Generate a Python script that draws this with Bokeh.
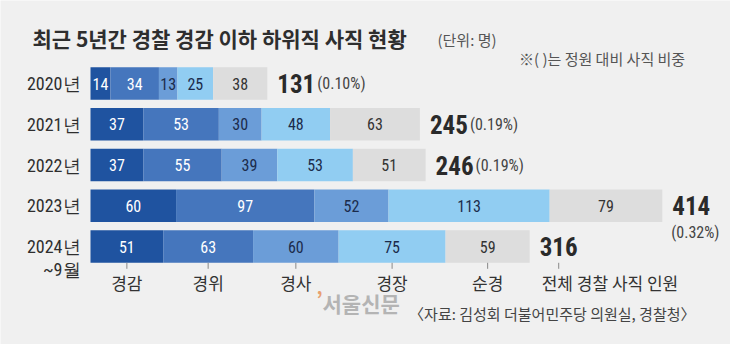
from bokeh.plotting import figure
from bokeh.models import ColumnDataSource, Range1d, Label
from bokeh.core.properties import value
from bokeh.embed import file_html
from bokeh.resources import INLINE

# ---------------- data ----------------
years = ["2020년", "2021년", "2022년", "2023년", "2024년"]
year_note = "~9월"
ranks = ["경감", "경위", "경사", "경장", "순경"]
gyeonggam = [14, 37, 37, 60, 51]
gyeongwi = [34, 53, 55, 97, 63]
gyeongsa = [13, 30, 39, 52, 60]
gyeongjang = [25, 48, 53, 113, 75]
sungyeong = [38, 63, 51, 79, 59]
totals = [131, 245, 246, 414, 316]
ratios = ["(0.10%)", "(0.19%)", "(0.19%)", "(0.32%)", ""]
total_caption = "전체 경찰 사직 인원"
title = "최근 5년간 경찰 경감 이하 하위직 사직 현황"
unit = "(단위: 명)"
note = "※(  )는 정원 대비 사직 비중"
source_txt = "〈자료: 김성회 더불어민주당 의원실, 경찰청〉"
brand = "서울신문"

series = [gyeonggam, gyeongwi, gyeongsa, gyeongjang, sungyeong]
colors = ["#1f53a0", "#4576bd", "#6b9dd8", "#91cdf2", "#dddddd"]
label_colors = ["#ffffff", "#ffffff", "#1b2b4b", "#1b2b4b", "#333333"]

W, H = 730, 344
BG = "#f0f0f0"
X0, SX = 90.0, 1.426      # pixel of x=0, px per unit
Y0, SY = 83.0, 40.75      # pixel of row 0, px per row

def px2x(px):
    return (px - X0) / SX

def px2y(py):
    return (py - Y0) / SY

NARROW_CSS = "'Roboto Condensed', 'DejaVu Sans Condensed', 'Liberation Sans Narrow', Roboto, sans-serif"
NARROW = value(NARROW_CSS)
KR_CSS = "Noto Sans CJK KR"

p = figure(width=W, height=H, output_backend="svg", toolbar_location=None,
           x_range=Range1d(px2x(0), px2x(W)), y_range=Range1d(px2y(H), px2y(0)),
           min_border=0, x_axis_location=None, y_axis_location=None,
           background_fill_color=BG, border_fill_color=BG, outline_line_color=None)
p.grid.visible = False

n = len(years)
idx = list(range(n))
data = {"y": idx}
for r, s in zip(ranks, series):
    data[r] = s
src = ColumnDataSource(data)
p.hbar_stack(ranks, y="y", height=0.8, color=colors, line_color=None, source=src)

# segment value labels
xs, ys, txt, tc = [], [], [], []
for i in idx:
    left = 0
    for k, s in enumerate(series):
        xs.append(left + s[i] / 2)
        ys.append(i)
        txt.append(str(s[i]))
        tc.append(label_colors[k])
        left += s[i]
p.text(x=xs, y=ys, text=txt, text_color=tc, text_font=NARROW, text_font_size="16px",
       text_align="center", text_baseline="middle")

sums = [sum(s[i] for s in series) for i in idx]

# year labels
p.text(x=[0] * n, y=idx, text=years, x_offset=-10, text_font=NARROW, text_font_size="18px",
       text_color="#2e2e2e", text_align="right", text_baseline="middle")
p.text(x=[0], y=[idx[-1] + 23 / SY], text=[year_note], x_offset=-10, text_font=NARROW,
       text_font_size="18px", text_color="#2e2e2e", text_align="right", text_baseline="middle")

# totals
p.text(x=sums, y=idx, text=[str(t) for t in totals], x_offset=10, text_font=NARROW,
       text_font_style="bold", text_font_size="25px", text_color="#2a2a2a",
       text_align="left", text_baseline="middle")
# ratios next to totals (rows 0-2)
p.text(x=sums[:3], y=idx[:3], text=ratios[:3], x_offset=50, text_font=NARROW,
       text_font_size="16px", text_color="#444444", text_align="left", text_baseline="middle")
# ratio under total for row 3
p.text(x=[sums[3]], y=[idx[3] + 27 / SY], text=[ratios[3]], x_offset=33, text_font=NARROW,
       text_font_size="16px", text_color="#444444", text_align="center", text_baseline="middle")

# category ticks & labels under last bar
last = idx[-1]
centers = []
left = 0
for s in series:
    centers.append(left + s[last] / 2)
    left += s[last]
tick_x = centers + [sums[last] + 29 / SX]
y_top = last + 0.4
y_bot = last + 0.4 + 6 / SY
p.segment(x0=tick_x, y0=[y_top] * len(tick_x), x1=tick_x, y1=[y_bot] * len(tick_x),
          line_color="#888888", line_width=1)
p.text(x=centers, y=[px2y(282)] * len(centers), text=ranks, text_font=value(KR_CSS),
       text_font_size="17px", text_color="#333333", text_align="center", text_baseline="middle")
p.text(x=[sums[last] + 12 / SX], y=[px2y(282)], text=[total_caption], text_font=value(KR_CSS),
       text_font_size="17px", text_color="#333333", text_align="left", text_baseline="middle")

# title & notes
p.add_layout(Label(x=px2x(32), y=px2y(37), text=title, text_font=KR_CSS,
                   text_font_style="bold", text_font_size="21px", text_color="#2e2e2e",
                   text_baseline="middle", text_align="left"))
p.add_layout(Label(x=px2x(437), y=px2y(39), text=unit, text_font=KR_CSS,
                   text_font_size="15px", text_color="#555555",
                   text_baseline="middle", text_align="left"))
p.add_layout(Label(x=px2x(688), y=px2y(58), text=note, text_font=KR_CSS,
                   text_font_size="15px", text_color="#555555",
                   text_baseline="middle", text_align="right"))
p.add_layout(Label(x=px2x(695), y=px2y(313), text=source_txt, text_font=KR_CSS,
                   text_font_size="15px", text_color="#444444",
                   text_baseline="middle", text_align="right"))
# watermark
p.add_layout(Label(x=px2x(322), y=px2y(302), text=brand, text_font=KR_CSS,
                   text_font_style="bold", text_font_size="21px", text_color="#b4b4b4",
                   text_baseline="middle", text_align="left"))
p.add_layout(Label(x=px2x(319), y=px2y(298), text="’", text_font=KR_CSS,
                   text_font_style="bold", text_font_size="20px", text_color="#e8a070",
                   text_baseline="middle", text_align="center"))

open("out.html", "w").write(file_html(p, INLINE))
